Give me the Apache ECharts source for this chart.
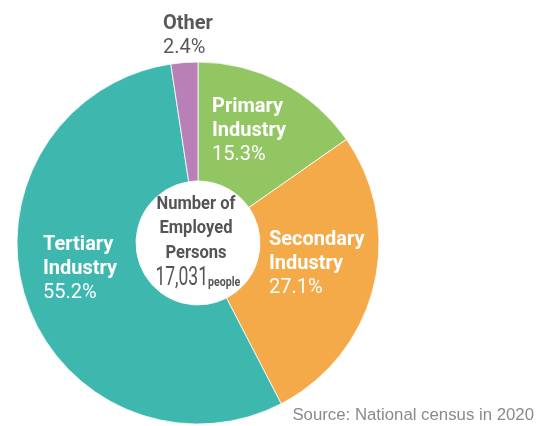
<!DOCTYPE html>
<html>
<head>
<meta charset="utf-8">
<script src="https://cdn.jsdelivr.net/npm/echarts@6/dist/echarts.min.js"></script>
<style>
  html, body { margin: 0; padding: 0; background: #fff; }
  #chart { width: 538px; height: 426px; }
</style>
</head>
<body>
<div id="chart"></div>
<script>
const categories = ["Primary Industry", "Secondary Industry", "Tertiary Industry", "Other"];
const shares = [15.3, 27.1, 55.2, 2.4];
const centerTitle = ["Number of", "Employed", "Persons"];
const totalPeople = "17,031";
const peopleUnit = "people";
const sourceNote = "Source: National census in 2020";

const colors = ["#92c663", "#f5aa4a", "#3eb8ae", "#b880b6"];
// top-left corner of each label block
const labelSpots = [[212, 95], [269, 228], [43, 233], [163, 12]];

const chart = echarts.init(document.getElementById("chart"));

const seriesData = categories.map((name, i) => ({
  name,
  value: shares[i],
  itemStyle: { color: colors[i] },
  label: i === 3 ? { color: "#595959" } : {},
}));

const centerFont = "Roboto, Liberation Sans, sans-serif";

const option = {
  animation: false,
  series: [
    {
      type: "pie",
      center: [198, 243],
      radius: [62, 181],
      startAngle: 90,
      clockwise: true,
      data: seriesData,
      itemStyle: { borderColor: "#fff", borderWidth: 0.8 },
      emphasis: { disabled: true },
      label: {
        show: true,
        position: "inside",
        color: "#fff",
        fontFamily: "Roboto, Liberation Sans, sans-serif",
        formatter: (p) => {
          const lines = p.name.split(" ").map((s) => `{n|${s}}`);
          return lines.join("\n") + `\n{p|${p.value}%}`;
        },
        rich: {
          n: { fontSize: 20, fontWeight: "bold", lineHeight: 24 },
          p: { fontSize: 20, fontWeight: "normal", lineHeight: 24 },
        },
      },
      labelLine: { show: false },
      labelLayout: (params) => {
        const spot = labelSpots[params.dataIndex];
        return { x: spot[0], y: spot[1], align: "left", verticalAlign: "top" };
      },
    },
  ],
  graphic: [
    {
      type: "text",
      z: 100,
      x: 196,
      y: 192,
      scaleX: 0.92,
      style: {
        text: centerTitle.join("\n"),
        align: "center",
        verticalAlign: "top",
        fontSize: 18,
        fontWeight: "bold",
        lineHeight: 24.5,
        fontFamily: centerFont,
        fill: "#555",
      },
    },
    {
      type: "text",
      z: 100,
      x: 208,
      y: 291,
      scaleX: 0.7,
      style: {
        text: totalPeople,
        align: "right",
        verticalAlign: "bottom",
        fontSize: 25,
        fontFamily: centerFont,
        fill: "#555",
      },
    },
    {
      type: "text",
      z: 100,
      x: 208,
      y: 289,
      scaleX: 0.82,
      style: {
        text: peopleUnit,
        align: "left",
        verticalAlign: "bottom",
        fontSize: 13,
        fontWeight: "bold",
        fontFamily: centerFont,
        fill: "#555",
      },
    },
    {
      type: "text",
      z: 100,
      right: 4,
      top: 407,
      style: {
        text: sourceNote,
        fontSize: 16.8,
        fontFamily: "Liberation Sans, Arial, sans-serif",
        fill: "#8a8a8a",
      },
    },
  ],
};

chart.setOption(option);
</script>
</body>
</html>
